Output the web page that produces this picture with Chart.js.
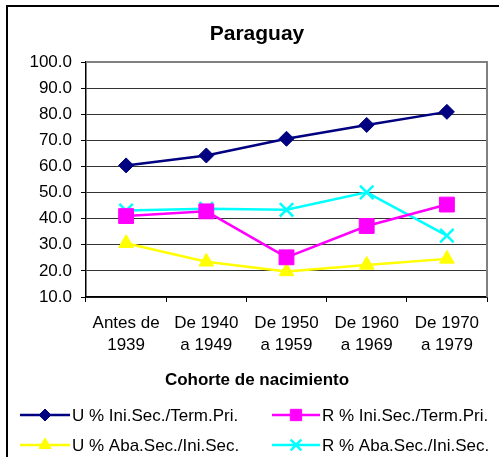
<!DOCTYPE html>
<html><head><meta charset="utf-8">
<script src="https://cdn.jsdelivr.net/npm/chart.js@4"></script>
<style>html,body{margin:0;padding:0;background:#fff;overflow:hidden}</style>
</head><body>
<canvas id="c" width="499" height="457" style="width:499px;height:457px;display:block"></canvas>
<script>
const chartTitle = "Paraguay";
const axisTitle = "Cohorte de nacimiento";
const categories = [["Antes de","1939"],["De 1940","a 1949"],["De 1950","a 1959"],["De 1960","a 1969"],["De 1970","a 1979"]];
const seriesNames = ["U % Ini.Sec./Term.Pri.","R % Ini.Sec./Term.Pri.","U % Aba.Sec./Ini.Sec.","R % Aba.Sec./Ini.Sec."];
const uIniSec = [60.4, 64.2, 70.6, 75.9, 80.9];
const rIniSec = [41.0, 42.8, 25.2, 37.2, 45.4];
const uAbaSec = [30.6, 23.5, 19.8, 22.3, 24.6];
const rAbaSec = [43.1, 43.8, 43.4, 50.1, 33.5];
const yMin = 10, yMax = 100, yStep = 10;

const FONT = "'Liberation Sans', Arial, sans-serif";
const styles = [
  {color:'#000080', point:'rectRot', r:7.5, lr:6, bw:1},
  {color:'#FF00FF', point:'rect', r:10.5, lr:8, bw:1},
  {color:'#FFFF00', point:'triangle', r:8.5, lr:7, bw:1},
  {color:'#00FFFF', point:'crossRot', r:9.5, lr:7.5, bw:2.5}
];
const values = [uIniSec, rIniSec, uAbaSec, rAbaSec];

const decor = {
  id:'decor',
  beforeDraw(chart){
    const ctx = chart.ctx;
    ctx.save(); ctx.fillStyle='#fff'; ctx.fillRect(0,0,chart.width,chart.height); ctx.restore();
  },
  beforeDatasetsDraw(chart){
    const {ctx, chartArea:a} = chart;
    ctx.save();
    ctx.strokeStyle = '#808080'; ctx.lineWidth = 2;
    ctx.beginPath();
    ctx.moveTo(a.left, a.top); ctx.lineTo(a.right, a.top); ctx.lineTo(a.right, a.bottom);
    ctx.stroke();
    ctx.restore();
  },
  afterDraw(chart){
    const ctx = chart.ctx;
    ctx.save();
    // outer frame
    ctx.strokeStyle = '#000'; ctx.lineWidth = 2;
    ctx.strokeRect(7, 6, 700, 700);
    // legend
    const cols = [{x0:20,x1:70,tx:72},{x0:272,x1:320,tx:322}];
    const rows = [415, 445];
    chart.data.datasets.forEach((ds, i) => {
      const c = cols[i % 2], y = rows[Math.floor(i / 2)];
      const s = styles[i];
      ctx.strokeStyle = ds.borderColor; ctx.lineWidth = 2.5;
      ctx.beginPath(); ctx.moveTo(c.x0, y); ctx.lineTo(c.x1, y); ctx.stroke();
      ctx.fillStyle = ds.pointBackgroundColor; ctx.strokeStyle = ds.pointBorderColor;
      ctx.lineWidth = s.bw;
      Chart.helpers.drawPoint(ctx, {pointStyle: s.point, radius: s.lr, borderWidth: s.bw, rotation: 0}, (c.x0 + c.x1) / 2, y);
      ctx.fillStyle = '#000'; ctx.font = '17px ' + FONT;
      ctx.textAlign = 'left'; ctx.textBaseline = 'middle';
      ctx.fillText(ds.label, c.tx, y + 1);
    });
    ctx.restore();
  }
};

new Chart(document.getElementById('c'), {
  type: 'line',
  data: {
    labels: categories,
    datasets: values.map((v, i) => ({
      label: seriesNames[i],
      data: v,
      borderColor: styles[i].color,
      backgroundColor: styles[i].color,
      pointBackgroundColor: styles[i].color,
      pointBorderColor: styles[i].color,
      pointStyle: styles[i].point,
      pointRadius: styles[i].r,
      pointHoverRadius: styles[i].r,
      pointBorderWidth: styles[i].bw,
      borderWidth: 2.5,
      tension: 0,
      fill: false
    }))
  },
  options: {
    responsive: false,
    animation: false,
    devicePixelRatio: 1,
    layout: { padding: { left: 27, right: 12, top: 0, bottom: 56.8 } },
    plugins: {
      legend: { display: false },
      tooltip: { enabled: false },
      title: {
        display: true, text: chartTitle, color: '#000',
        font: { family: FONT, size: 21, weight: 'bold', lineHeight: 1.2 },
        padding: { top: 21.4, bottom: 15.4 }
      },
      subtitle: {
        display: true, position: 'bottom', text: axisTitle, color: '#000',
        font: { family: FONT, size: 17, weight: 'bold', lineHeight: 1.2 },
        padding: { top: 2.8, bottom: 10 }
      }
    },
    scales: {
      x: {
        offset: true,
        grid: { offset: true, drawOnChartArea: false, drawTicks: true, tickLength: 5, tickColor: '#000', color: '#000' },
        border: { display: true, color: '#000', width: 1.5 },
        ticks: { color: '#000', font: { family: FONT, size: 17, lineHeight: 22/17 }, padding: 10, maxRotation: 0, autoSkip: false },
        afterFit(scale){ scale.height = 70; }
      },
      y: {
        min: yMin, max: yMax,
        grid: { color: '#333', lineWidth: 1, drawTicks: true, tickLength: 5, tickColor: '#000' },
        border: { display: true, color: '#000', width: 1.5 },
        ticks: { stepSize: yStep, color: '#000', font: { family: FONT, size: 17 }, padding: 9,
          callback: v => Number(v).toFixed(1) },
        afterFit(scale){ scale.width = 59; }
      }
    }
  },
  plugins: [decor]
});
</script>
</body></html>
